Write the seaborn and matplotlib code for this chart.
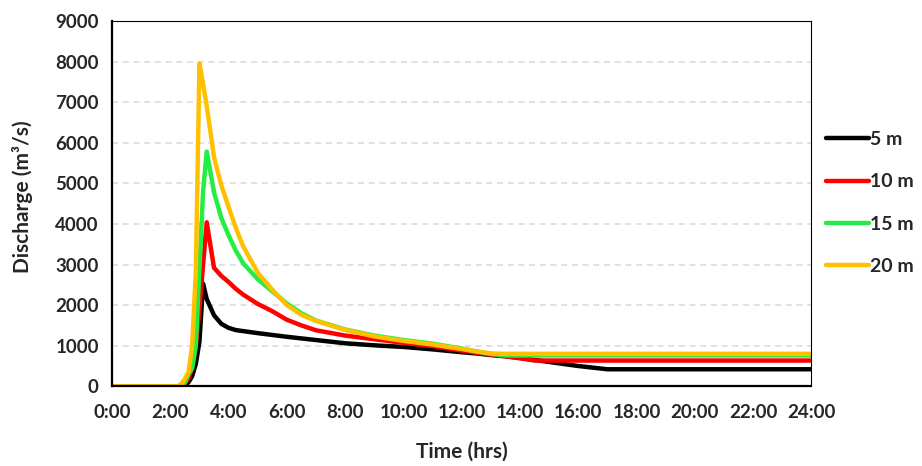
import numpy as np
import pandas as pd
import matplotlib
matplotlib.use('Agg')
import matplotlib.pyplot as plt
import seaborn as sns

# hydrograph values (time in hours, discharge in m3/s)
time_hrs = [0, 2, 2.25, 2.375, 2.5, 2.625, 2.75, 2.875, 3.0, 3.125, 3.25, 3.5,
            3.75, 4.0, 4.25, 4.5, 5.0, 5.5, 6.0, 6.5, 7.0, 8.0, 9.0, 10.0,
            11.0, 12.0, 12.5, 13.0, 13.5, 14.0, 14.5, 15.0, 16.0, 17.0, 24.0]

q_5m = [0, 0, 0, 0, 30, 100, 250, 550, 1100, 2530, 2150, 1750,
        1540, 1440, 1385, 1360, 1310, 1265, 1220, 1180, 1140, 1060, 1010, 970,
        910, 840, 810, 770, 740, 700, 650, 600, 500, 420, 420]

q_10m = [0, 0, 0, 0, 60, 200, 450, 1000, 1900, 3000, 4040, 2920,
         2720, 2570, 2400, 2260, 2030, 1850, 1640, 1500, 1380, 1250, 1160, 1070,
         990, 880, 830, 780, 740, 690, 635, 635, 635, 635, 635]

q_15m = [0, 0, 0, 0, 100, 300, 450, 1000, 2900, 4800, 5780, 4780,
         4150, 3720, 3340, 3030, 2640, 2340, 2040, 1800, 1620, 1400, 1250, 1140,
         1050, 930, 860, 800, 760, 760, 760, 760, 760, 760, 760]

q_20m = [0, 0, 0, 60, 180, 350, 1000, 2800, 7950, 7450, 6900, 5650,
         4950, 4420, 3900, 3450, 2800, 2380, 2000, 1760, 1610, 1390, 1230, 1120,
         1030, 920, 860, 810, 800, 800, 800, 800, 800, 800, 800]

series_names = ['5 m', '10 m', '15 m', '20 m']
series_colors = ['#000000', '#FF0000', '#22EE44', '#FFC000']

x_ticks = list(range(0, 25))
x_labels = ['0:00', '', '2:00', '', '4:00', '', '6:00', '', '8:00', '', '10:00', '',
            '12:00', '', '14:00', '', '16:00', '', '18:00', '', '20:00', '',
            '22:00', '', '24:00']
y_ticks = [0, 1000, 2000, 3000, 4000, 5000, 6000, 7000, 8000, 9000]

df = pd.DataFrame({
    'time': time_hrs * 4,
    'Q': q_5m + q_10m + q_15m + q_20m,
    'depth': np.repeat(series_names, len(time_hrs)),
})

sns.set_style('white')
plt.rcParams['font.family'] = ['Lato', 'DejaVu Sans']
plt.rcParams['font.weight'] = 'bold'

fig = plt.figure(figsize=(9.22, 4.66), dpi=100)
ax = fig.add_axes([0.1215, 0.171, 0.7585, 0.784])

sns.lineplot(data=df, x='time', y='Q', hue='depth', hue_order=series_names,
             palette=series_colors, lw=3.2, ax=ax, legend=True)

ax.set_xlim(0, 24)
ax.set_ylim(0, 9000)
ax.set_xticks(x_ticks)
ax.set_xticklabels(x_labels)
ax.set_yticks(y_ticks)
ax.yaxis.grid(True, color='#D9D9D9', ls=(0, (4, 3)), lw=1.1)
ax.set_axisbelow(True)

for s in ax.spines.values():
    s.set_color('black')
    s.set_linewidth(0.8)
ax.spines['left'].set_linewidth(1.6)
ax.spines['bottom'].set_linewidth(1.6)

ax.tick_params(axis='both', direction='out', length=4.5, width=1.0,
               labelsize=13.5, color='black')
ax.tick_params(axis='x', pad=8)
ax.tick_params(axis='y', pad=5)
ax.tick_params(right=False, top=False)

ax.set_xlabel('Time (hrs)', fontsize=15, fontweight='bold', labelpad=15)
ax.set_ylabel('Discharge (m³/s)', fontsize=15, fontweight='bold')
ax.yaxis.set_label_coords(-0.113, 0.52)

leg = ax.legend(loc='upper left', bbox_to_anchor=(1.01, 0.72), frameon=False,
                fontsize=14, handlelength=2.2, handletextpad=0.05,
                labelspacing=1.3, borderaxespad=0)
for h in leg.get_lines():
    h.set_linewidth(3.2)
for t in leg.get_texts():
    t.set_fontweight('bold')

fig.savefig('out.png', dpi=100)
